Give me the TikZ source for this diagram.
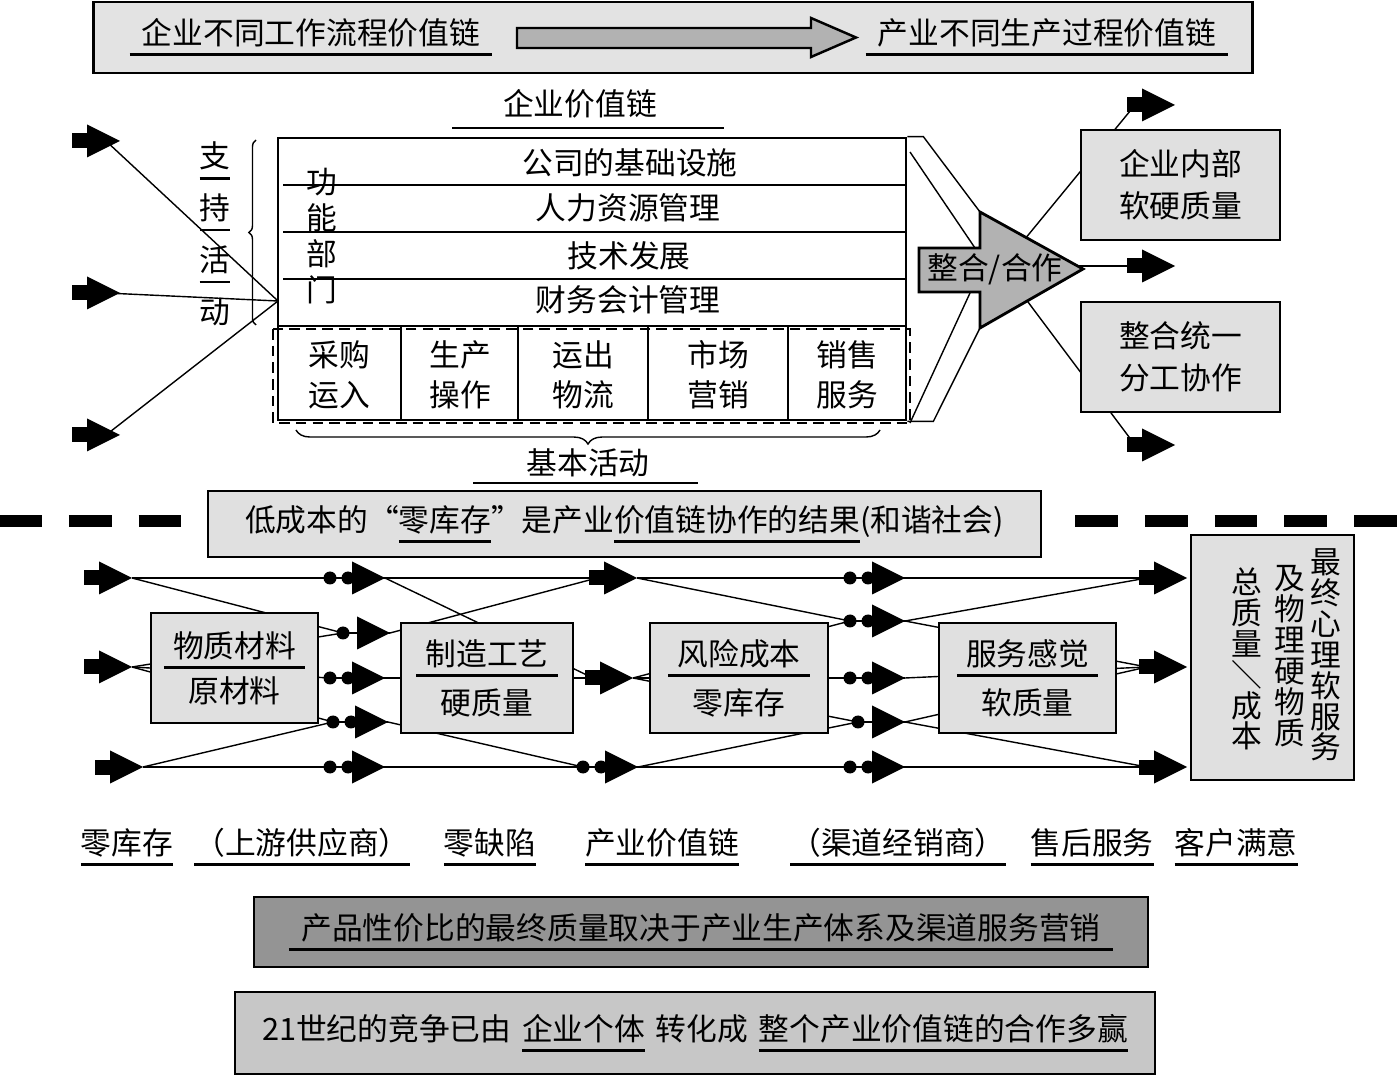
\documentclass[tikz,border=0pt]{standalone}
\usepackage{fontspec}
\setmainfont{Noto Sans CJK SC}
\usetikzlibrary{calc,backgrounds,decorations.pathreplacing}

% underline a piece of text: \uln[overhang]{text}
\newcommand{\uln}[2][0pt]{\setbox0=\hbox{#2}\rlap{\hspace{-#1}\rule[-0.38em]{\dimexpr\wd0+#1+#1\relax}{1.5pt}}\box0}
% block arrow (bar and head): #1 name, #2 tip
\newcommand{\blkarrow}[2]{\coordinate (#1) at (#2); \coordinate (#1-in) at ($(#2)+(-40,0)$); \coordinate (#1-c) at ($(#2)+(-14,0)$);
  \fill ($(#2)+(-48,-7.5)$) rectangle ($(#2)+(-28,7.5)$); \fill (#2) -- ++(-33,-16.5) -- ++(0,33) -- cycle;}
% head with one or two dots in front: #1 name, #2 tip, #3 dots
\newcommand{\dotarrow}[3]{\coordinate (#1) at (#2);
  \ifnum#3=1 \coordinate (#1-in) at ($(#2)+(-47,0)$); \else \coordinate (#1-in) at ($(#2)+(-55,0)$); \fill ($(#2)+(-37,0)$) circle (6.5); \fi
  \fill (#1-in) circle (6.5); \draw[line width=0.8pt] (#1-in) -- (#2); \fill (#2) -- ++(-33,-16.5) -- ++(0,33) -- cycle;}

\begin{document}
\begin{tikzpicture}[x=0.02cm,y=-0.02cm,font=\fontsize{17.5}{21}\selectfont,
  box/.style={draw,line width=1.6pt,fill=black!12,align=center,inner sep=0pt},
  twoline/.style={align=center,font=\fontsize{17.5}{22.7}\selectfont},
  vcol/.style={align=center,inner sep=0pt,font=\fontsize{17.5}{17.6}\selectfont},
  conn/.style={line width=0.8pt},
  uline/.style={line width=1.5pt},
  cut/.style={line width=0.24cm,dash pattern=on 24.4pt off 15.3pt},
  curly/.style={decorate,decoration={brace,amplitude=#1},line width=0.8pt}]
\useasboundingbox (0,0) rectangle (1397,1077);

% Top banner
\node[box,fill=black!11,minimum width=23.2cm,minimum height=1.42cm] (banner) at (673,37.5) {};
\node (wflow) at (311,37) {\uln[0.4em]{企业不同工作流程价值链}};
\node (pflow) at (1047,37) {\uln[0.4em]{产业不同生产过程价值链}};
\draw[line width=1.4pt,fill=black!30] (517,28) -- (811,28) -- (811,18) -- (856,37.5) -- (811,57) -- (811,48) -- (517,48) -- cycle;

% Enterprise value chain
\node (evc) at (580,104) {企业价值链}; \draw[uline] (452,128) -- (724,128);
\node[draw,line width=1.6pt,minimum width=12.56cm,minimum height=5.64cm] (vc) at (592,279) {};
\foreach \y in {185,232,279} \draw[conn] (283,\y) -- (906,\y);
\draw[line width=1.6pt] (278,326) -- (906,326);
\foreach \x in {401,518,648,788} \draw[line width=1pt] (\x,326) -- (\x,420);
\draw[line width=0.9pt,dash pattern=on 6pt off 3.5pt] (273,329) rectangle (910,423);
\node (infra) at (630,163) {公司的基础设施};
\node (hr) at (628,208) {人力资源管理};
\node (tech) at (629,256) {技术发展};
\node (fin) at (628,300) {财务会计管理};
\node[vcol,font=\fontsize{17.5}{20.4}\selectfont] (dept) at (322,236) {功\\能\\部\\门};
\node[vcol,font=\fontsize{17.5}{29.5}\selectfont] (supp) at (215,234) {\uln{支}\\\uln{持}\\\uln{活}\\动};
\node[twoline] (inb) at (339,375) {采购\\运入};
\node[twoline] (ops) at (460,375) {生产\\操作};
\node[twoline] (outb) at (583,375) {运出\\物流};
\node[twoline] (mkt) at (718,375) {市场\\营销};
\node[twoline] (svc) at (847,375) {销售\\服务};
\draw[curly=4pt] (256,325) -- (256,140);
\draw[curly=8pt] (880,430) -- (296,430);
\node (prim) at (588,463) {基本活动}; \draw[uline] (473,483) -- (698,483);

% Inputs and integration
\blkarrow{la1}{120,141} \blkarrow{la2}{120,293} \blkarrow{la3}{120,435}
\coordinate (hub) at (278,301);
\draw[line width=1.6pt,fill=black!30] (919,248) -- (980,248) -- (980,212) coordinate (ht) -- (1083,269) -- (980,328) coordinate (hb) -- (980,292) -- (919,292) -- cycle;
\node (coop) at (995,269) {整合/合作};
\node[box,minimum width=3.98cm,minimum height=2.2cm,font=\fontsize{17.5}{23.8}\selectfont] (inner) at (1180.5,185) {企业内部\\软硬质量};
\node[box,minimum width=3.98cm,minimum height=2.2cm,font=\fontsize{17.5}{23.8}\selectfont] (unify) at (1180.5,357) {整合统一\\分工协作};
\blkarrow{ra1}{1175,105} \blkarrow{ra2}{1175,266} \blkarrow{ra3}{1175,445}
\begin{scope}[on background layer]
\foreach \a in {la1,la2,la3} \draw[conn] (\a-c) -- (hub);
\draw[conn] (vc.north east) -- ++(16,0) -- (ht);
\draw[conn] (910,152) -- (975,248);
\draw[conn] (910,423) -- (970,293);
\draw[conn] (vc.south east) -- ++(26,0) -- (hb);
\draw[conn] (1020,245) -- (ra1-in);
\draw[conn] (1060,266) -- (ra2-in);
\draw[conn] (1025,298) -- (ra3-in);
\end{scope}

% Separator and industry chain
\draw[cut] (-1,521) -- (182,521); \draw[cut] (1075,521) -- (1397,521);
\node[box,minimum width=16.66cm,minimum height=1.32cm] (zinv) at (624.5,524) {低成本的“\uln{零库存}”是产业\uln{价值链协作的结果}(和谐社会)};
\node[box,minimum width=3.34cm,minimum height=2.2cm,font=\fontsize{17.5}{25.5}\selectfont] (mat) at (234.5,668) {\uln[0.3em]{物质材料}\\原材料};
\node[box,minimum width=3.44cm,minimum height=2.2cm,font=\fontsize{17.5}{28}\selectfont] (proc) at (487,678) {\uln[0.3em]{制造工艺}\\硬质量};
\node[box,minimum width=3.56cm,minimum height=2.2cm,font=\fontsize{17.5}{28}\selectfont] (risk) at (739,678) {\uln[0.3em]{风险成本}\\零库存};
\node[box,minimum width=3.54cm,minimum height=2.2cm,font=\fontsize{17.5}{28}\selectfont] (serv) at (1027.5,678) {\uln[0.3em]{服务感觉}\\软质量};
\node[box,minimum width=3.26cm,minimum height=4.9cm] (total) at (1272.5,657.5) {};
\node[vcol] (soft) at (1326,655) {最\\终\\心\\理\\软\\服\\务};
\node[vcol] (hard) at (1290,656) {及\\物\\理\\硬\\物\\质};
\node[vcol] (ratio) at (1247,659) {总\\质\\量\\＼\\成\\本};
\blkarrow{a1}{132,578} \blkarrow{a3}{132,667} \blkarrow{a5}{143,767}
\dotarrow{b1}{385,578}{2} \dotarrow{b2}{390,633}{1} \dotarrow{b3}{385,678}{2} \dotarrow{b4}{388,722}{2} \dotarrow{b5}{385,767}{2}
\blkarrow{c1}{637,578} \blkarrow{c3}{633,678} \dotarrow{c5}{638,767}{2}
\dotarrow{d1}{905,578}{2} \dotarrow{d2}{905,621}{2} \dotarrow{d3}{905,678}{2} \dotarrow{d4}{905,722}{1} \dotarrow{d5}{905,767}{2}
\blkarrow{e1}{1187,578} \blkarrow{e3}{1187,667} \blkarrow{e5}{1187,767}
\begin{scope}[on background layer]
\draw[conn] (a1) -- (b1-in) (b1) -- (c1-in) (c1) -- (d1-in) (d1) -- (e1-in);
\draw[conn] (a5) -- (b5-in) (b5) -- (c5-in) (c5) -- (d5-in) (d5) -- (e5-in);
\foreach \s/\t in {a1/b2,a3/b2,a3/b3,a3/b4,a5/b4,b1/c3,b2/c1,b3/c3,b4/c5,c1/d2,c3/d2,c3/d3,c3/d4,c5/d4,d2/e1,d2/e3,d3/e3,d4/e3,d4/e5}
  \draw[conn] (\s) -- (\t-in);
\end{scope}

% Stage labels
\node (l1) at (127,847) {\uln{零库存}};
\node (l2) at (302,847) {\uln{（上游供应商）}};
\node (l3) at (490,847) {\uln{零缺陷}};
\node (l4) at (662,847) {\uln{产业价值链}};
\node (l5) at (898,847) {\uln{（渠道经销商）}};
\node (l6) at (1092,847) {\uln{售后服务}};
\node (l7) at (1236,847) {\uln{客户满意}};

% Conclusions
\node[box,fill=black!42,minimum width=17.88cm,minimum height=1.4cm] (verdict) at (701,932) {\uln[0.4em]{产品性价比的最终质量取决于产业生产体系及渠道服务营销}};
\node[box,fill=black!22,minimum width=18.4cm,minimum height=1.64cm] (shift) at (695,1033) {21世纪的竞争已由\hspace{0.35em}\uln{企业个体}\hspace{0.35em}转化成\hspace{0.35em}\uln{整个产业价值链的合作多赢}};
\end{tikzpicture}
\end{document}
